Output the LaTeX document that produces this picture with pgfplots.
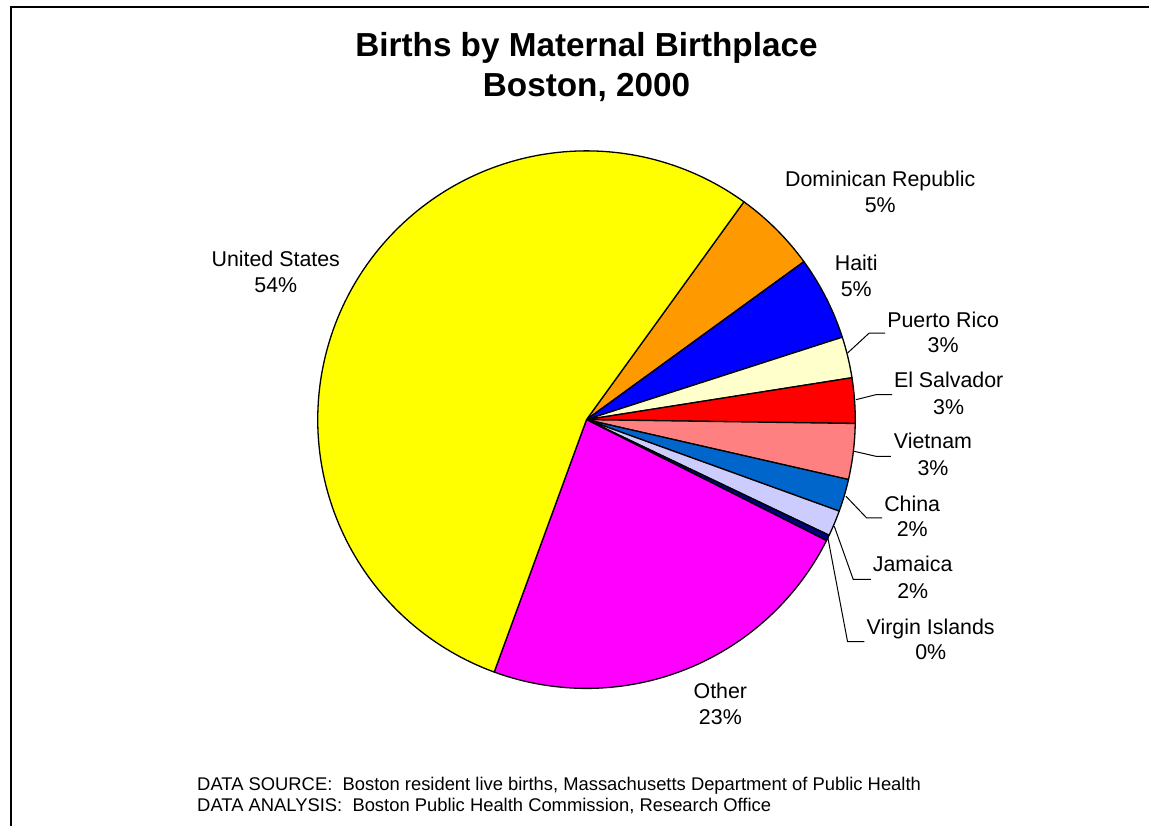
\documentclass[border=0pt]{standalone}
\usepackage{pgfplots}
\pgfplotsset{compat=1.18}
\usepackage{fontspec}
\setmainfont{Liberation Sans}
\definecolor{cUS}{HTML}{FFFF00}
\definecolor{cDom}{HTML}{FF9900}
\definecolor{cHai}{HTML}{0000FF}
\definecolor{cPR}{HTML}{FFFFCC}
\definecolor{cES}{HTML}{FF0000}
\definecolor{cVie}{HTML}{FF8080}
\definecolor{cChi}{HTML}{0066CC}
\definecolor{cJam}{HTML}{CCCCFF}
\definecolor{cVI}{HTML}{000080}
\definecolor{cOth}{HTML}{FF00FF}
\newcommand{\lbl}{\fontsize{10.7}{12.8}\selectfont}
\begin{document}
\begin{tikzpicture}
% pie centre and radius (pixel units of the chart)
\def\cx{587}\def\cy{420}\def\R{269}
% shares of births (percent), clockwise from the Dominican Republic
\def\vDom{5.04}\def\vHai{5.04}\def\vPR{2.47}\def\vES{2.72}\def\vVie{3.35}
\def\vChi{1.95}\def\vJam{1.55}\def\vVI{0.35}\def\vOth{23.15}\def\vUS{54.38}
\pgfmathsetmacro\aA{54.15}
\pgfmathsetmacro\aB{\aA-3.6*\vDom}
\pgfmathsetmacro\aC{\aB-3.6*\vHai}
\pgfmathsetmacro\aD{\aC-3.6*\vPR}
\pgfmathsetmacro\aE{\aD-3.6*\vES}
\pgfmathsetmacro\aF{\aE-3.6*\vVie}
\pgfmathsetmacro\aG{\aF-3.6*\vChi}
\pgfmathsetmacro\aH{\aG-3.6*\vJam}
\pgfmathsetmacro\aI{\aH-3.6*\vVI}
\pgfmathsetmacro\aJ{\aI-3.6*\vOth}
\pgfmathsetmacro\aK{\aJ-3.6*\vUS}
\begin{axis}[width=575pt,height=413.5pt,scale only axis,
  xmin=0,xmax=1150,ymin=0,ymax=827,y dir=reverse,
  hide axis,clip=false]
\path (axis cs:0,0) rectangle (axis cs:1150,827);
\pgfplotsset{every axis plot/.append style={draw=black,line width=0.65pt,line join=round}}
\addplot[fill=cDom,domain=\aB:\aA,samples=30] ({\cx+\R*cos(x)},{\cy-\R*sin(x)}) -- (axis cs:\cx,\cy) -- cycle;
\addplot[fill=cHai,domain=\aC:\aB,samples=30] ({\cx+\R*cos(x)},{\cy-\R*sin(x)}) -- (axis cs:\cx,\cy) -- cycle;
\addplot[fill=cPR,domain=\aD:\aC,samples=20] ({\cx+\R*cos(x)},{\cy-\R*sin(x)}) -- (axis cs:\cx,\cy) -- cycle;
\addplot[fill=cES,domain=\aE:\aD,samples=20] ({\cx+\R*cos(x)},{\cy-\R*sin(x)}) -- (axis cs:\cx,\cy) -- cycle;
\addplot[fill=cVie,domain=\aF:\aE,samples=20] ({\cx+\R*cos(x)},{\cy-\R*sin(x)}) -- (axis cs:\cx,\cy) -- cycle;
\addplot[fill=cChi,domain=\aG:\aF,samples=20] ({\cx+\R*cos(x)},{\cy-\R*sin(x)}) -- (axis cs:\cx,\cy) -- cycle;
\addplot[fill=cJam,domain=\aH:\aG,samples=20] ({\cx+\R*cos(x)},{\cy-\R*sin(x)}) -- (axis cs:\cx,\cy) -- cycle;
\addplot[fill=cVI,domain=\aI:\aH,samples=5] ({\cx+\R*cos(x)},{\cy-\R*sin(x)}) -- (axis cs:\cx,\cy) -- cycle;
\addplot[fill=cOth,domain=\aJ:\aI,samples=80] ({\cx+\R*cos(x)},{\cy-\R*sin(x)}) -- (axis cs:\cx,\cy) -- cycle;
\addplot[fill=cUS,domain=\aK:\aJ,samples=150] ({\cx+\R*cos(x)},{\cy-\R*sin(x)}) -- (axis cs:\cx,\cy) -- cycle;
% frame
\draw[line width=1pt] (axis cs:11,827) -- (axis cs:11,7.5) -- (axis cs:1150,7.5);
% title
\node[anchor=base,font=\bfseries\fontsize{16.65}{20}\selectfont] at (axis cs:587,57) {Births by Maternal Birthplace};
\node[anchor=base,font=\bfseries\fontsize{16.65}{20}\selectfont] at (axis cs:587,97) {Boston, 2000};
% leader lines
\draw[line width=0.5pt] (axis cs:848.3,353.3) -- (axis cs:870,333.3) -- (axis cs:886,333.3);
\draw[line width=0.5pt] (axis cs:856.7,400) -- (axis cs:876.7,395) -- (axis cs:893,395);
\draw[line width=0.5pt] (axis cs:855,451.7) -- (axis cs:876.7,456.7) -- (axis cs:891.7,456.7);
\draw[line width=0.5pt] (axis cs:846.7,496.7) -- (axis cs:867.3,518.3) -- (axis cs:883,518.3);
\draw[line width=0.5pt] (axis cs:835,526.7) -- (axis cs:854,580) -- (axis cs:871.7,580);
\draw[line width=0.5pt] (axis cs:828.3,536.7) -- (axis cs:848.3,642.3) -- (axis cs:865,642.3);
% labels
\node[anchor=base,font=\lbl] at (axis cs:276,266.7) {United States};
\node[anchor=base,font=\lbl] at (axis cs:276,292.7) {54\%};
\node[anchor=base,font=\lbl] at (axis cs:881,187) {Dominican Republic};
\node[anchor=base,font=\lbl] at (axis cs:881,213) {5\%};
\node[anchor=base,font=\lbl] at (axis cs:857,271) {Haiti};
\node[anchor=base,font=\lbl] at (axis cs:857,297) {5\%};
\node[anchor=base,font=\lbl] at (axis cs:944,327.3) {Puerto Rico};
\node[anchor=base,font=\lbl] at (axis cs:944,352.7) {3\%};
\node[anchor=base,font=\lbl] at (axis cs:949.5,388.3) {El Salvador};
\node[anchor=base,font=\lbl] at (axis cs:949.5,415) {3\%};
\node[anchor=base,font=\lbl] at (axis cs:933.8,449.3) {Vietnam};
\node[anchor=base,font=\lbl] at (axis cs:933.8,476) {3\%};
\node[anchor=base,font=\lbl] at (axis cs:913,511.7) {China};
\node[anchor=base,font=\lbl] at (axis cs:913,537.3) {2\%};
\node[anchor=base,font=\lbl] at (axis cs:913.5,572.3) {Jamaica};
\node[anchor=base,font=\lbl] at (axis cs:913.5,599.3) {2\%};
\node[anchor=base,font=\lbl] at (axis cs:931.5,635) {Virgin Islands};
\node[anchor=base,font=\lbl] at (axis cs:931.5,660) {0\%};
\node[anchor=base,font=\lbl] at (axis cs:721,699) {Other};
\node[anchor=base,font=\lbl] at (axis cs:721,725) {23\%};
% footer
\node[anchor=base west,inner sep=0pt,font=\fontsize{9.2}{11}\selectfont] at (axis cs:197,791) {DATA SOURCE:\ \ Boston resident live births, Massachusetts Department of Public Health};
\node[anchor=base west,inner sep=0pt,font=\fontsize{9.2}{11}\selectfont] at (axis cs:197,812) {DATA ANALYSIS:\ \ Boston Public Health Commission, Research Office};
\end{axis}
\end{tikzpicture}
\end{document}
